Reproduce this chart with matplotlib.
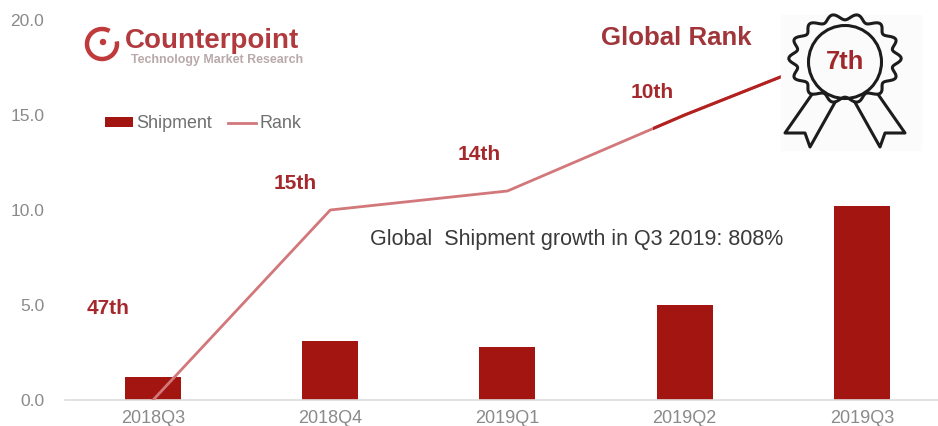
import numpy as np
import matplotlib
matplotlib.use("Agg")
import matplotlib.pyplot as plt
from matplotlib.patches import Rectangle, Circle, Arc

plt.rcParams['font.family'] = ['Liberation Sans', 'DejaVu Sans']

# Data
quarters = ["2018Q3", "2018Q4", "2019Q1", "2019Q2", "2019Q3"]
shipment = [1.2, 3.1, 2.8, 5.0, 10.2]
rank_line = [0.0, 10.0, 11.0, 15.0, 18.7]
rank_labels = ["47th", "15th", "14th", "10th"]
rank_label_y = [4.8, 11.4, 12.9, 16.2]
yticks = [0, 5, 10, 15, 20]

RED = "#a31510"
LINE = "#d2777a"
TXT = "#a5282c"
GREY = "#8a8a8a"

W, H = 938, 426
fig = plt.figure(figsize=(W / 100, H / 100), dpi=100)

# main axes, placed in pixels
left, right, top, bottom = 64.5, 938, 20, 400
ax = fig.add_axes([left / W, 1 - bottom / H, (right - left) / W, (bottom - top) / H])
x = np.arange(len(quarters))
bars = ax.bar(x, shipment, width=0.316, color=RED, label="Shipment", zorder=2)
ln, = ax.plot(x, rank_line, color=LINE, lw=2, label="Rank", zorder=3)

# darker last stretch of the line
dark, = ax.plot(x, rank_line, color="#b3211f", lw=2.2, zorder=4)
clip = Rectangle((653, 0), 300, H, transform=None)
dark.set_clip_path(clip)

ax.set_xlim(-0.5, 4.43)
ax.set_ylim(0, 20)
ax.set_xticks(x, quarters)
ax.set_yticks(yticks, ["%.1f" % v for v in yticks])
ax.tick_params(axis='x', length=0, pad=7.5, labelsize=13, labelcolor=GREY)
ax.tick_params(axis='y', length=0, pad=14.5, labelsize=12.5, labelcolor=GREY)
for s in ["top", "right", "left"]:
    ax.spines[s].set_visible(False)
ax.spines["bottom"].set_color("#dddddd")
ax.spines["bottom"].set_linewidth(1.2)

label_x = [-0.255, -0.2, -0.16, -0.185]
for i, lab in enumerate(rank_labels):
    ax.text(x[i] + label_x[i], rank_label_y[i], lab, color=TXT,
            fontsize=15, fontweight='bold', ha='center', va='center', zorder=5)

ax.legend([bars, ln], ["Shipment", "Rank"], loc='center left', bbox_to_anchor=(105 / W, 1 - 124 / H),
          bbox_transform=fig.transFigure, ncol=2, frameon=False, fontsize=12.9, labelcolor="#6f6f6f",
          handlelength=1.55, handleheight=0.45, handletextpad=0.2, columnspacing=0.9, borderpad=0,
          borderaxespad=0)

# overlay in pixel coordinates for the logo and the ribbon icon
ov = fig.add_axes([0, 0, 1, 1], zorder=10)
ov.set_xlim(0, W)
ov.set_ylim(H, 0)
ov.axis('off')
ov.patch.set_alpha(0)

ov.text(577, 240, "Global  Shipment growth in Q3 2019: 808%", color="#3a3a3a", fontsize=15.5,
        ha='center', va='center')
ov.text(676, 38, "Global Rank", color="#a0353a", fontsize=18.6, fontweight='bold', ha='center', va='center')

# logo
ov.add_patch(Arc((102, 44), 30, 30, theta1=-10, theta2=300, color="#c0393b", lw=3.2))
ov.add_patch(Circle((103, 42), 2.5, color="#c0393b"))
ov.text(125, 41, "Counterpoint", color="#b03a3e", fontsize=20, fontweight='bold', ha='left', va='center')
ov.text(131, 60, "Technology Market Research", color="#b9a9a9", fontsize=8.9, fontweight='bold',
        ha='left', va='center')

# ribbon icon
ov.add_patch(Rectangle((781, 15), 140, 135, color="#fbfbfb", zorder=1))
cx, cy = 845, 62
t = np.linspace(0, 2 * np.pi, 500)
r = 49 + 3.5 * np.cos(14 * (t + np.pi / 2) + np.pi)
ribbons = [[(815, 90), (785, 133), (805, 133), (810, 147), (838, 97)],
           [(875, 90), (905, 133), (885, 133), (880, 147), (852, 97)]]
for pts in ribbons:
    p = np.array(pts)
    ov.plot(p[:, 0], p[:, 1], color="#1c1c1c", lw=2.2, zorder=2, solid_joinstyle='round')
ov.fill(cx + 1.07 * r * np.cos(t), cy - 3.5 + 0.85 * r * np.sin(t), facecolor="#fbfbfb", edgecolor="#1c1c1c",
        lw=2.2, zorder=3)
ov.add_patch(Circle((cx, cy), 36.5, fill=False, edgecolor="#1c1c1c", lw=2.2, zorder=4))
ov.text(cx, cy, "7th", color="#a0282c", fontsize=18.4, fontweight='bold', ha='center', va='center', zorder=5)

fig.savefig("out.png", dpi=100)
